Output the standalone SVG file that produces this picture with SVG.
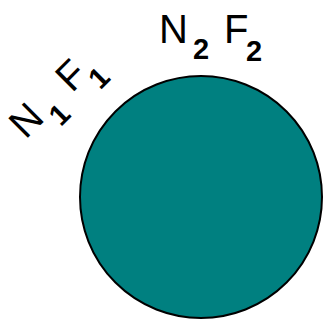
<svg xmlns="http://www.w3.org/2000/svg" width="323" height="320" viewBox="0 0 323 320">
<style>
.lbl{font-family:"Liberation Sans",Arial,sans-serif;font-size:40px;fill:#000}
.sub{font-size:29px;font-weight:bold}
</style>
<rect width="323" height="320" fill="#fff"/>
<g id="sphere">
<circle cx="201" cy="197" r="121" fill="#008080" stroke="#000" stroke-width="2"/>
</g>
<g id="label-n2f2" transform="translate(159,43)">
<text class="lbl"><tspan x="0" y="0">N</tspan><tspan class="sub" x="34" y="16">2</tspan><tspan x="65" y="0">F</tspan><tspan class="sub" x="87" y="18">2</tspan></text>
</g>
<g id="label-n1f1" transform="translate(25.4,140.1) rotate(-45)">
<text class="lbl"><tspan x="0" y="0">N</tspan><tspan class="sub" x="34" y="16">1</tspan><tspan x="66" y="0">F</tspan><tspan class="sub" x="88" y="18">1</tspan></text>
</g>
</svg>
